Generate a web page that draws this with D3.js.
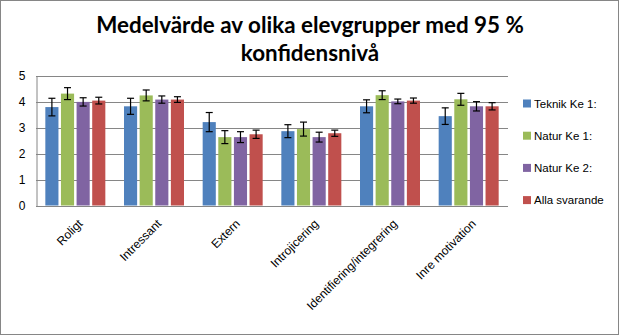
<!DOCTYPE html>
<html><head><meta charset="utf-8">
<script src="https://cdn.jsdelivr.net/npm/d3@7"></script>
<style>html,body{margin:0;padding:0;background:#fff;}svg{display:block;}</style>
</head><body>
<script>
const categories = ["Roligt","Intressant","Extern","Introjicering","Identifiering/integrering","Inre motivation"];
const seriesNames = ["Teknik Ke 1:","Natur Ke 1:","Natur Ke 2:","Alla svarande"];
const teknikKe1 = [3.80,3.83,3.22,2.87,3.83,3.45];
const naturKe1  = [4.32,4.25,2.64,2.95,4.26,4.10];
const naturKe2  = [4.00,4.09,2.64,2.64,4.02,3.83];
const allaSvarande = [4.05,4.09,2.75,2.79,4.05,3.83];
const errTeknikKe1 = [0.34,0.31,0.37,0.25,0.25,0.32];
const errNaturKe1  = [0.23,0.21,0.25,0.27,0.17,0.23];
const errNaturKe2  = [0.16,0.14,0.21,0.19,0.09,0.18];
const errAlla      = [0.13,0.11,0.16,0.12,0.10,0.14];
const yTicks = [0,1,2,3,4,5];
const titleLines = ["Medelvärde av olika elevgrupper med 95 %","konfidensnivå"];
const colors = ["#4F81BD","#9BBB59","#8064A2","#C0504D"];

const values = [teknikKe1,naturKe1,naturKe2,allaSvarande];
const errors = [errTeknikKe1,errNaturKe1,errNaturKe2,errAlla];

const W=619,H=335;
const svg=d3.select("body").append("svg").attr("width",W).attr("height",H);
svg.append("rect").attr("x",0.5).attr("y",0.5).attr("width",W-1).attr("height",H-1)
  .attr("fill","#fff").attr("stroke","#868686").attr("stroke-width",1);

const pLeft=36,pRight=508,pTop=76,pBottom=205.5;
const x0=d3.scaleBand().domain(categories).range([pLeft,pRight]).padding(0);
const groupW=60;
const x1=d3.scaleBand().domain(seriesNames).range([0,groupW]).paddingInner(0.16);
const y=d3.scaleLinear().domain([0,5]).range([pBottom,pTop]);

// gridlines
svg.append("g").selectAll("line").data(yTicks).join("line")
  .attr("x1",pLeft).attr("x2",pRight)
  .attr("y1",d=>Math.round(y(d))+0.5).attr("y2",d=>Math.round(y(d))+0.5)
  .attr("stroke","#868686").attr("stroke-width",1);

// y axis
const yAxis=svg.append("g").attr("transform",`translate(${pLeft+0.5},0)`)
  .call(d3.axisLeft(y).tickValues(yTicks).tickSize(0).tickPadding(11).tickFormat(d3.format("d")));
yAxis.select(".domain").attr("stroke","#868686");
yAxis.selectAll("text").attr("font-family","Liberation Sans, Arial, sans-serif").attr("font-size","12px").attr("fill","#000");

// bars
const groups=svg.append("g").selectAll("g").data(categories).join("g")
  .attr("transform",c=>`translate(${x0(c)+(x0.bandwidth()-groupW)/2},0)`);
groups.each(function(c,ci){
  const g=d3.select(this);
  seriesNames.forEach((s,si)=>{
    const v=values[si][ci], e=errors[si][ci];
    g.append("rect").attr("x",x1(s)).attr("width",x1.bandwidth())
      .attr("y",y(v)).attr("height",y(0)-y(v)).attr("fill",colors[si]);
    const cx=x1(s)+x1.bandwidth()/2;
    g.append("line").attr("x1",cx).attr("x2",cx).attr("y1",y(v+e)).attr("y2",y(v-e))
      .attr("stroke","#000").attr("stroke-width",1.2);
    [v+e,v-e].forEach(t=>{
      g.append("line").attr("x1",cx-3.5).attr("x2",cx+3.5).attr("y1",y(t)).attr("y2",y(t))
        .attr("stroke","#000").attr("stroke-width",1.2);
    });
  });
});

// x axis
svg.append("line").attr("x1",pLeft).attr("x2",pRight).attr("y1",Math.round(pBottom)+0.5).attr("y2",Math.round(pBottom)+0.5)
  .attr("stroke","#868686");
const xAxis=svg.append("g").attr("transform",`translate(0,${pBottom})`)
  .call(d3.axisBottom(x0).tickSize(0).tickPadding(0));
xAxis.select(".domain").remove();
xAxis.selectAll("text")
  .attr("font-family","Liberation Sans, Arial, sans-serif").attr("font-size","12px").attr("fill","#000")
  .attr("text-anchor","end").attr("dy","0")
  .attr("transform","translate(8,19) rotate(-45)");

// title
svg.append("g").selectAll("text").data(titleLines).join("text")
  .attr("x",310).attr("y",(d,i)=>33+i*28)
  .attr("text-anchor","middle").attr("font-family","Lato, Open Sans, sans-serif")
  .attr("font-weight","bold").attr("font-size","22.4px").attr("fill","#000").text(d=>d);

// legend
const leg=svg.append("g").selectAll("g").data(seriesNames).join("g")
  .attr("transform",(d,i)=>`translate(523,${103.5+i*32.2})`);
leg.append("rect").attr("x",0).attr("y",-4).attr("width",8).attr("height",8).attr("fill",(d,i)=>colors[i]);
leg.append("text").attr("x",11).attr("y",4).attr("font-family","Liberation Sans, Arial, sans-serif")
  .attr("font-size","11.5px").attr("fill","#000").text(d=>d);
</script>
</body></html>
